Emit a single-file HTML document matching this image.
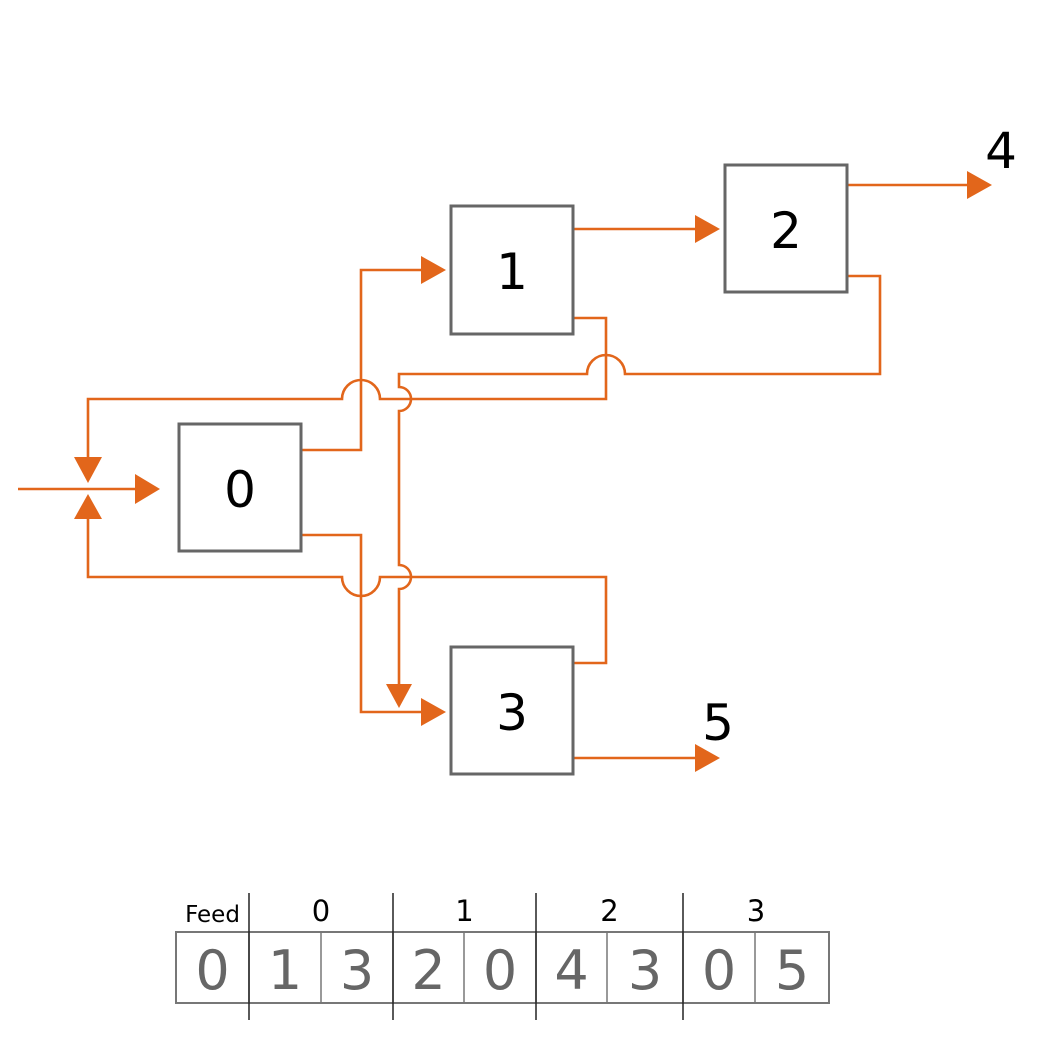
<!DOCTYPE html>
<html><head><meta charset="utf-8"><style>
html,body{margin:0;padding:0;background:#fff;}
svg{display:block;font-family:"DejaVu Sans","Liberation Sans",sans-serif;}
</style></head><body>
<svg id="diagram" width="1050" height="1042" viewBox="0 0 1050 1042">
<g fill="none" stroke="#E2661B" stroke-width="2.6">
  <path d="M18,489 H140"/>
  <path d="M301,450 H361 V270 H425"/>
  <path d="M301,535 H361 V712 H425"/>
  <path d="M573,229 H700"/>
  <path d="M847,185 H972"/>
  <path d="M573,758 H700"/>
  <path d="M573,318 H606 V399 H399 M399,399 H380 A19,19 0 0 0 342,399 H88 V460"/>
  <path d="M573,663 H606 V577 H380 A19,19 0 0 1 342,577 H88 V517"/>
  <path d="M847,276 H880 V374 H625 A19,19 0 0 0 587,374 H399 V387 A12,12 0 0 1 399,411 V565 A12,12 0 0 1 399,589 V688"/>
</g>
<g fill="#E2661B">
  <polygon points="135,474 160,489 135,504"/>
  <polygon points="74,457 102,457 88,483"/>
  <polygon points="74,519 102,519 88,494"/>
  <polygon points="421,256 446,270 421,284"/>
  <polygon points="421,698 446,712 421,726"/>
  <polygon points="695,215 720,229 695,243"/>
  <polygon points="967,171 992,185 967,199"/>
  <polygon points="695,744 720,758 695,772"/>
  <polygon points="386,684 412,684 399,708"/>
</g>
<g fill="#fff" stroke="#666" stroke-width="3">
  <rect x="179" y="424" width="122" height="127"/>
  <rect x="451" y="206" width="122" height="128"/>
  <rect x="725" y="165" width="122" height="127"/>
  <rect x="451" y="647" width="122" height="127"/>
</g>
<g fill="#000" font-size="50" text-anchor="middle">
  <text x="240" y="507">0</text>
  <text x="512" y="289">1</text>
  <text x="786" y="248">2</text>
  <text x="512" y="730">3</text>
  <text x="1001" y="168">4</text>
  <text x="718" y="740">5</text>
</g>
<g id="feedTable"></g>
</svg>
<script>
const groupLabels = ["Feed", "0", "1", "2", "3"];
const groupSizes = [1, 2, 2, 2, 2];
const cellValues = ["0", "1", "3", "2", "0", "4", "3", "0", "5"];
const cellEdges = [176, 249, 321, 393, 464, 536, 607, 683, 755, 829];

const SVGNS = "http://www.w3.org/2000/svg";
const tblGroup = document.getElementById("feedTable");
function mk(tag, attrs) { const e = document.createElementNS(SVGNS, tag); for (const k in attrs) e.setAttribute(k, attrs[k]); tblGroup.appendChild(e); return e; }
const tblTop = 932, tblBot = 1003;
const outer = mk("rect", {x: cellEdges[0], y: tblTop, width: cellEdges[cellEdges.length-1]-cellEdges[0], height: tblBot-tblTop, fill: "none", stroke: "#777", "stroke-width": 2});


for (let i = 0; i < cellValues.length; i++) {
  const x0 = cellEdges[i], x1 = cellEdges[i+1];
  if (i > 0) {
    const ln = mk("line", {x1: x0, y1: tblTop, x2: x0, y2: tblBot, stroke: "#777", "stroke-width": 1.5});
    
    
  }
  const t = mk("text", {x: (x0+x1)/2, y: 989, "text-anchor": "middle", "font-size": 54, fill: "#666"});
  t.textContent = cellValues[i];
  
  
}
let idx = 0;
for (let k = 0; k < groupLabels.length; k++) {
  const x0 = cellEdges[idx], x1 = cellEdges[idx + groupSizes[k]];
  if (k > 0) {
    const ln = mk("line", {x1: x0, y1: 893, x2: x0, y2: 1020, stroke: "#222", "stroke-width": 1.5});
    
    
  }
  const t = mk("text", {x: (x0+x1)/2, y: k === 0 ? 922 : 921, "text-anchor": "middle", "font-size": k === 0 ? 23 : 29, fill: "#000"});
  t.textContent = groupLabels[k];
  
  
  idx += groupSizes[k];
}
</script>
</body></html>
